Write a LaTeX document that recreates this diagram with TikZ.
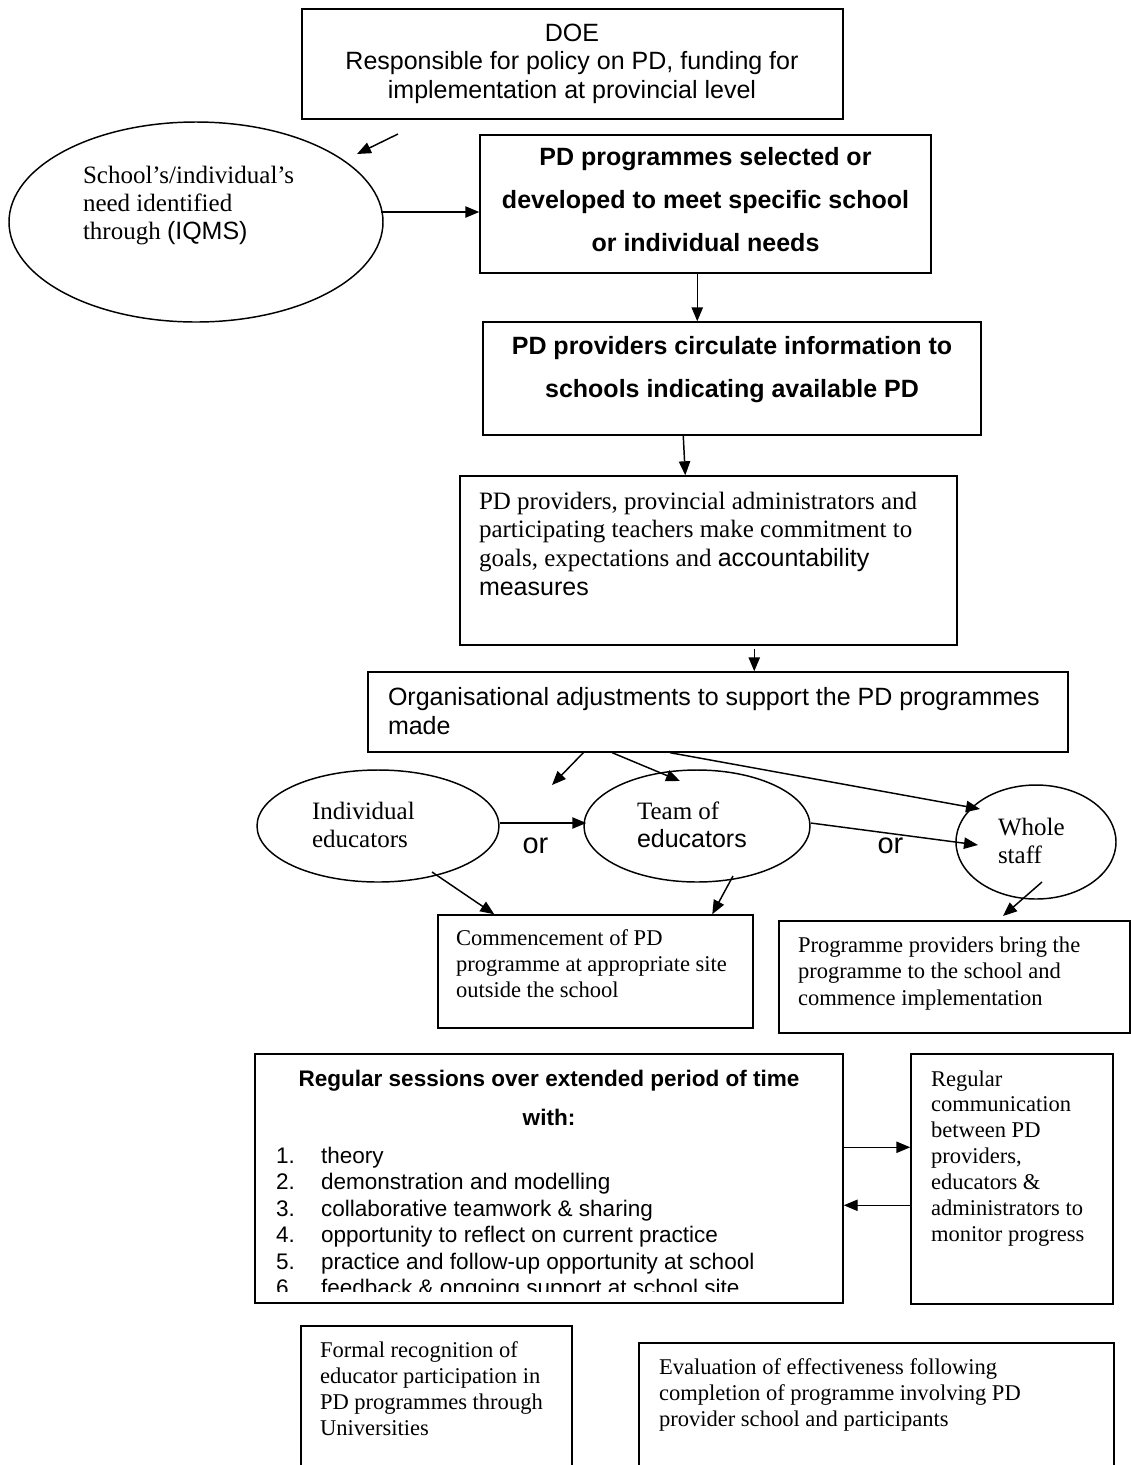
\documentclass[tikz,border=0pt]{standalone}
\usepackage{fontspec}
\setmainfont{Liberation Serif}
\newfontfamily\arialf{Liberation Sans}
\newfontfamily\timesf{Liberation Serif}
\usetikzlibrary{arrows.meta,fit,calc,shapes.geometric}
\newcommand\fA{\fontsize{18.75pt}{21.75pt}\selectfont}
\newcommand\fB{\fontsize{16.9pt}{19.5pt}\selectfont}
\newcommand\Lft[2]{\vtop{\baselineskip=#1\relax\lineskiplimit=-20pt\halign{##\hfil\cr#2\crcr}}}
\newcommand\Ctr[2]{\vtop{\baselineskip=#1\relax\lineskiplimit=-20pt\halign{\hfil##\hfil\cr#2\crcr}}}
\newcommand\itm[2]{\hbox to 33.75pt{#1\hfil}#2}
\begin{document}
\begin{tikzpicture}[x=0.75pt,y=-0.75pt,
  box/.style={draw, line width=1.1pt, inner sep=0pt, rectangle},
  oval/.style={draw, ellipse, line width=1.1pt, inner sep=0pt},
  txt/.style={inner sep=0pt, outer sep=0pt},
  arr/.style={line width=1.1pt, -{Triangle[length=10.5pt,width=8.5pt]}}]
\path[use as bounding box] (0,0) rectangle (1131,1465);
\clip (0,0) rectangle (1131,1465);

% DOE
\node[box, fit={(302,9)(843,119)}] (doe) {};
\node[txt, anchor=base, font=\arialf\fA] (doeT) at (572,41)
  {\Ctr{21.4pt}{DOE\cr Responsible for policy on PD, funding for\cr implementation at provincial level}};

% needs ellipse
\node[oval, minimum width=280.5pt, minimum height=150pt] (ell1) at (196,222) {};
\node[txt, anchor=base west, font=\timesf\fA] (ell1T) at (83,183)
  {\Lft{21pt}{School’s/individual’s\cr need identified\cr through {\arialf (IQMS)}}};

% PD programmes selected
\node[box, fit={(480,135)(931,273)}] (box2) {};
\node[txt, anchor=base, font=\arialf\bfseries\fA] (box2T) at (705.5,165)
  {\Ctr{32.25pt}{PD programmes selected or\cr developed to meet specific school\cr or individual needs}};

% PD providers circulate
\node[box, fit={(483,322)(981,435)}] (box3) {};
\node[txt, anchor=base, font=\arialf\bfseries\fA] (box3T) at (732,354)
  {\Ctr{32.25pt}{PD providers circulate information to\cr schools indicating available PD}};

% commitment
\node[box, fit={(460,476)(957,645)}] (box4) {};
\node[txt, anchor=base west, font=\timesf\fA] (box4T) at (479,509)
  {\Lft{21.5pt}{PD providers, provincial administrators and\cr participating teachers make commitment to\cr goals, expectations and {\arialf accountability}\cr {\arialf measures}}};

% organisational adjustments
\node[box, fit={(368,672)(1068,752)}] (box5) {};
\node[txt, anchor=base west, font=\arialf\fA] (box5T) at (388,705)
  {\Lft{21.75pt}{Organisational adjustments to support the PD programmes\cr made}};

% three ellipses
\node[oval, minimum width=181.5pt, minimum height=84pt] (ind) at (378,826) {};
\node[txt, anchor=base west, font=\timesf\fA] (indT) at (312,819) {\Lft{21pt}{Individual\cr educators}};
\node[oval, minimum width=169.5pt, minimum height=84pt] (team) at (697,826) {};
\node[txt, anchor=base west, font=\timesf\fA] (teamT) at (637,819) {\Lft{21pt}{Team of\cr {\arialf educators}}};
\node[oval, minimum width=120pt, minimum height=85.5pt] (whole) at (1036,842) {};
\node[txt, anchor=base west, font=\timesf\fA] (wholeT) at (998,835) {\Lft{21pt}{Whole\cr staff}};
\node[txt, anchor=base, font=\arialf\fontsize{21.75pt}{24pt}\selectfont] (or1) at (535.5,853) {or};
\node[txt, anchor=base, font=\arialf\fontsize{21.75pt}{24pt}\selectfont] (or2) at (890.5,853) {or};

% commencement boxes
\node[box, fit={(438,915)(753,1028)}] (comm) {};
\node[txt, anchor=base west, font=\timesf\fB] (commT) at (456,945)
  {\Lft{19.5pt}{Commencement of PD\cr programme at appropriate site\cr outside the school}};
\node[box, fit={(779,921)(1130,1033)}] (prog) {};
\node[txt, anchor=base west, font=\timesf\fB] (progT) at (798,952)
  {\Lft{19.9pt}{Programme providers bring the\cr programme to the school and\cr commence implementation}};

% regular sessions
\node[box, fit={(255,1054)(843,1303)}] (reg) {};
\node[txt, anchor=base, font=\arialf\bfseries\fB] (regT) at (549,1086)
  {\Ctr{29.25pt}{Regular sessions over extended period of time\cr with:}};
\begin{scope}
\clip (255,1054) rectangle (843,1291);
\node[txt, anchor=base west, font=\arialf\fB] (regL) at (276,1163)
  {\Lft{19.9pt}{\itm{1.}{theory}\cr
   \itm{2.}{demonstration and modelling}\cr
   \itm{3.}{collaborative teamwork \& sharing}\cr
   \itm{4.}{opportunity to reflect on current practice}\cr
   \itm{5.}{practice and follow-up opportunity at school}\cr
   \itm{6.}{feedback \& ongoing support at school site}}};
\end{scope}

% regular communication
\node[box, fit={(911,1054)(1113,1304)}] (rc) {};
\node[txt, anchor=base west, font=\timesf\fB] (rcT) at (931,1086)
  {\Lft{19.4pt}{Regular\cr communication\cr between PD\cr providers,\cr educators \&\cr administrators to\cr monitor progress}};

% bottom boxes (cut by the page edge)
\node[box, fit={(301,1326)(572,1480)}] (formal) {};
\node[txt, anchor=base west, font=\timesf\fB] (formalT) at (320,1357)
  {\Lft{19.5pt}{Formal recognition of\cr educator participation in\cr PD programmes through\cr Universities}};
\node[box, fit={(639,1343)(1114,1480)}] (eval) {};
\node[txt, anchor=base west, font=\timesf\fB] (evalT) at (659,1374)
  {\Lft{19.5pt}{Evaluation of effectiveness following\cr completion of programme involving PD\cr provider school and participants}};

% connectors
\coordinate (a1s) at (398,134);
\coordinate (a1e) at (357,154);
\draw[arr] (a1s) -- (a1e);
\draw[arr] ($(ell1.east)+(-3,-10)$) -- ($(box2.west)+(0,8)$);
\draw[arr] ($(box2.south west)+(218,0)$) -- ($(box3.north west)+(215,0)$);
\draw[arr] ($(box3.south west)+(201,0)$) -- ($(box4.north west)+(226,0)$);
\draw[arr] ($(box4.south west)+(295,3)$) -- ($(box5.north west)+(387,0)$);
\coordinate (a6e) at (552,785);
\draw[arr] ($(box5.south west)+(216,0)$) -- (a6e);
\coordinate (a7e) at (680,781);
\draw[arr] ($(box5.south west)+(245,0)$) -- (a7e);
\coordinate (a8e) at (980,809);
\draw[arr] ($(box5.south west)+(303,0)$) -- (a8e);
\draw[arr] ($(ind.east)+(0,-3)$) -- ($(team.west)+(3,-3)$);
\coordinate (a10e) at (978,845);
\draw[arr] ($(team.east)+(0,-3)$) -- (a10e);
\coordinate (a11s) at (432,872);
\draw[arr] (a11s) -- ($(comm.north west)+(57,0)$);
\coordinate (a12s) at (733,876);
\draw[arr] (a12s) -- ($(comm.north west)+(275,0)$);
\coordinate (a13s) at (1042,882);
\coordinate (a13e) at (1003,916);
\draw[arr] (a13s) -- (a13e);
\draw[arr] ($(reg.north east)+(0,94)$) -- ($(rc.north west)+(0,94)$);
\draw[arr] ($(rc.north west)+(0,152)$) -- ($(reg.north east)+(0,152)$);
\end{tikzpicture}
\end{document}
